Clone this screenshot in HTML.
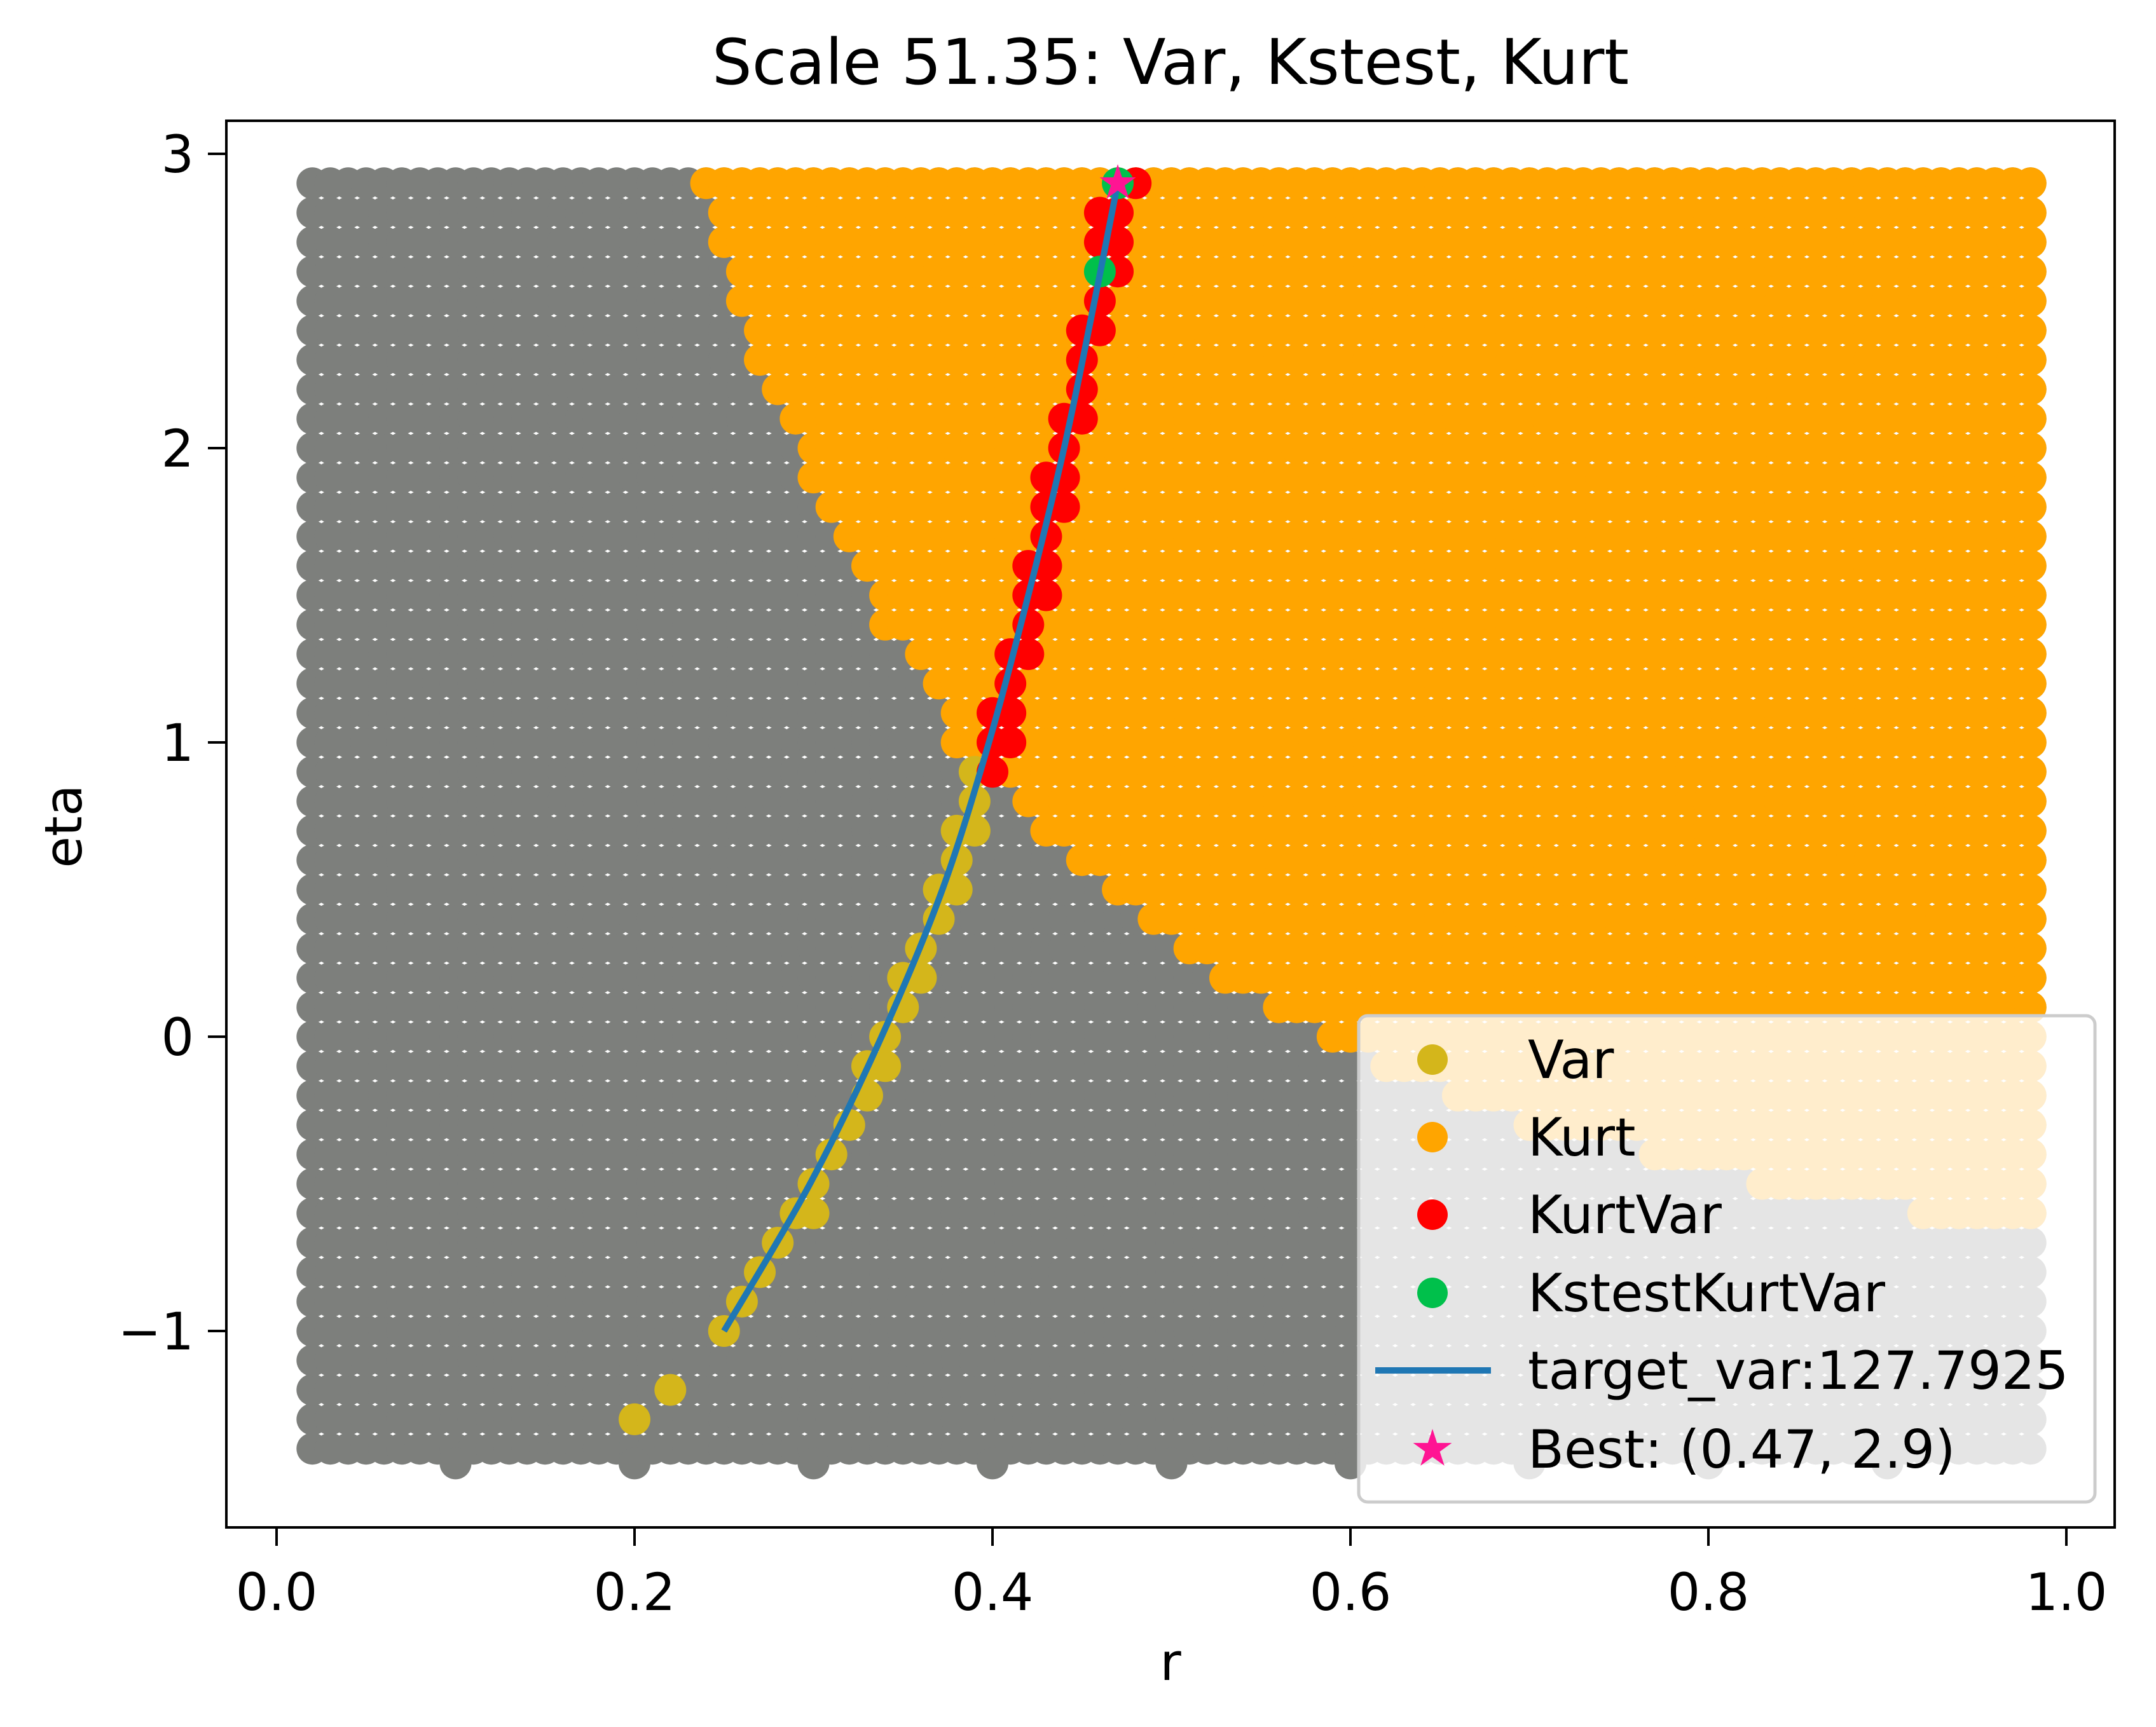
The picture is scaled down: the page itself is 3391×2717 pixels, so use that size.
<!DOCTYPE html>
<html><head><meta charset="utf-8"><style>
html,body{margin:0;padding:0;background:#fff;}
svg{display:block;font-family:"DejaVu Sans","Liberation Sans",sans-serif;}
</style></head><body>
<svg id="chart" width="3391" height="2717" viewBox="0 0 3391 2717" xmlns="http://www.w3.org/2000/svg">
<rect x="0" y="0" width="3391" height="2717" fill="#fff"/>
<text x="1841" y="132" font-size="99" text-anchor="middle">Scale 51.35: Var, Kstest, Kurt</text>
<g id="plot"></g>
<g id="axes"></g>
<g id="legend"></g>
</svg>
<script>
// ---- data ----
const rValues = [];
for (let i = 2; i <= 98; i++) rValues.push(i / 100);
const etaValues = [];
for (let i = -14; i <= 29; i++) etaValues.push(i / 10);
// kurt region start r for each eta row (eta -1.4 .. 2.9); 2 = none
const kurtStart = [2,2,2,2,2,2,2,2, 0.92,0.83,0.77,0.70,0.66,0.62,
  0.59,0.56,0.53,0.51,0.49,0.465,0.45,0.43,0.42,0.41,
  0.38,0.38,0.37,0.36,0.34,0.34,0.33,0.32,0.31,0.30,0.30,
  0.29,0.28,0.27,0.27,0.26,0.26,0.25,0.25,0.24];
const extraR = [0.1,0.2,0.3,0.4,0.5,0.6,0.7,0.8,0.9];
const extraEta = -1.45;
const varR = [0.20,0.22,0.25,0.26,0.27,0.28,0.29,0.30,0.30,0.31,0.32,0.33,0.33,0.34,0.34,0.35,0.35,0.36,0.36,0.37,0.37,0.38,0.38,0.38,0.39,0.39,0.39];
const varEta = [-1.3,-1.2,-1.0,-0.9,-0.8,-0.7,-0.6,-0.6,-0.5,-0.4,-0.3,-0.2,-0.1,-0.1,0.0,0.1,0.2,0.2,0.3,0.4,0.5,0.5,0.6,0.7,0.7,0.8,0.9];
const kvR = [0.40,0.40,0.41,0.40,0.41,0.41,0.41,0.42,0.42,0.42,0.43,0.42,0.43,0.43,0.43,0.44,0.43,0.44,0.44,0.44,0.45,0.45,0.45,0.45,0.46,0.46,0.47,0.46,0.47,0.46,0.47,0.48];
const kvEta = [0.9,1.0,1.0,1.1,1.1,1.2,1.3,1.3,1.4,1.5,1.5,1.6,1.6,1.7,1.8,1.8,1.9,1.9,2.0,2.1,2.1,2.2,2.3,2.4,2.4,2.5,2.6,2.7,2.7,2.8,2.8,2.9];
const kkvR = [0.46,0.47];
const kkvEta = [2.6,2.9];
const curveEta = [-1.0,-0.5,0.0,0.5,1.0,1.5,2.0,2.5,2.9];
const curveR = [0.25,0.298,0.338,0.372,0.398,0.42,0.44,0.457,0.47];
const bestR = 0.47, bestEta = 2.9;
const xTicks = [0.0,0.2,0.4,0.6,0.8,1.0];
const xTickLabels = ["0.0","0.2","0.4","0.6","0.8","1.0"];
const yTicks = [-1,0,1,2,3];
const yTickLabels = ["\u22121","0","1","2","3"];

// ---- scales ----
const X0=435, XS=2815, Y0=1631, YS=463;
const sx = v => X0 + v*XS;
const sy = v => Y0 - v*YS;
const NS='http://www.w3.org/2000/svg';
const plot=document.getElementById('plot');
const axes=document.getElementById('axes');
const leg=document.getElementById('legend');
function mk(tag, attrs, parent){const e=document.createElementNS(NS,tag);for(const k in attrs)e.setAttribute(k,attrs[k]);parent.appendChild(e);return e;}
const R=25;
const GRAY='#7d7f7c', ORANGE='#ffa500', YEL='#d4b61b', RED='#ff0000', GREEN='#00c04b', BLUE='#1f77b4', PINK='#ff1493';

etaValues.forEach((eta,j)=>{
  rValues.forEach(r=>{
    const c=mk('circle',{cx:sx(r),cy:sy(eta),r:R,fill:GRAY},plot);
    
    
  });
});
extraR.forEach(r=>{
  const c=mk('circle',{cx:sx(r),cy:sy(extraEta),r:R,fill:GRAY},plot);
  
  
});
etaValues.forEach((eta,j)=>{
  rValues.forEach(r=>{
    if (r >= kurtStart[j]-1e-9) {
      const c=mk('circle',{cx:sx(r),cy:sy(eta),r:R,fill:ORANGE},plot);
      
      
    }
  });
});
varR.forEach((r,i)=>{
  const c=mk('circle',{cx:sx(r),cy:sy(varEta[i]),r:R,fill:YEL},plot);
  
  
});
kvR.forEach((r,i)=>{
  const c=mk('circle',{cx:sx(r),cy:sy(kvEta[i]),r:R,fill:RED},plot);
  
  
});
kkvR.forEach((r,i)=>{
  const c=mk('circle',{cx:sx(r),cy:sy(kkvEta[i]),r:R,fill:GREEN},plot);
  
  
});
// smooth curve (Catmull-Rom)
const P=curveR.map((r,i)=>[sx(r),sy(curveEta[i])]);
let d='M'+P[0][0]+','+P[0][1];
for(let i=0;i<P.length-1;i++){
  const p0=P[Math.max(i-1,0)],p1=P[i],p2=P[i+1],p3=P[Math.min(i+2,P.length-1)];
  const c1=[p1[0]+(p2[0]-p0[0])/6,p1[1]+(p2[1]-p0[1])/6];
  const c2=[p2[0]-(p3[0]-p1[0])/6,p2[1]-(p3[1]-p1[1])/6];
  d+=' C'+c1[0].toFixed(1)+','+c1[1].toFixed(1)+' '+c2[0].toFixed(1)+','+c2[1].toFixed(1)+' '+p2[0].toFixed(1)+','+p2[1].toFixed(1);
}
const line=mk('path',{d:d,fill:'none',stroke:BLUE,'stroke-width':10,'stroke-linejoin':'round'},plot);


function star(cx,cy,ro,parent){
  const ri=ro*0.382;let p=[];
  for(let k=0;k<10;k++){const a=-Math.PI/2+k*Math.PI/5;const rr=k%2?ri:ro;p.push((cx+rr*Math.cos(a)).toFixed(1)+','+(cy+rr*Math.sin(a)).toFixed(1));}
  return mk('polygon',{points:p.join(' '),fill:PINK},parent);
}
const st=star(sx(bestR),sy(bestEta),30,plot);



// ---- axes ----
const frame=mk('rect',{x:356,y:190,width:2970,height:2213,fill:'none',stroke:'#000','stroke-width':4},axes);


xTicks.forEach((v,i)=>{
  const t=mk('line',{x1:sx(v),x2:sx(v),y1:2403,y2:2432,stroke:'#000','stroke-width':4},axes);
  
  
  const l=mk('text',{x:sx(v),y:2533,'font-size':81,'text-anchor':'middle'},axes);
  l.textContent=xTickLabels[i];
  
  
});
yTicks.forEach((v,i)=>{
  const t=mk('line',{x1:327,x2:356,y1:sy(v),y2:sy(v),stroke:'#000','stroke-width':4},axes);
  
  
  const l=mk('text',{x:305,y:sy(v)+29,'font-size':81,'text-anchor':'end'},axes);
  l.textContent=yTickLabels[i];
  
  
});
const xl=mk('text',{x:1841,y:2643,'font-size':81,'text-anchor':'middle'},axes);
xl.textContent='r';


const yl=mk('text',{x:0,y:0,'font-size':81,'text-anchor':'middle',transform:'translate(128,1300) rotate(-90)'},axes);
yl.textContent='eta';



// ---- legend ----
const box=mk('rect',{x:2137,y:1598,width:1158,height:765,rx:14,fill:'#fff','fill-opacity':0.8,stroke:'#cccccc','stroke-width':5},leg);


const legLabels=['Var','Kurt','KurtVar','KstestKurtVar','target_var:127.7925','Best: (0.47, 2.9)'];
const legColors=[YEL,ORANGE,RED,GREEN,BLUE,PINK];
const legY=[1667,1789,1911,2034,2156,2280];
legLabels.forEach((lab,i)=>{
  const y=legY[i];
  let m;
  if(i<4){m=mk('circle',{cx:2253,cy:y,r:24,fill:legColors[i]},leg);}
  else if(i===4){m=mk('line',{x1:2163,x2:2345,y1:y,y2:y,stroke:BLUE,'stroke-width':10},leg);}
  else {m=star(2253,y,32,leg);}
  
  
  const t=mk('text',{x:2403,y:y+29,'font-size':83},leg);
  t.textContent=lab;
  
  
});
</script>
</body></html>
